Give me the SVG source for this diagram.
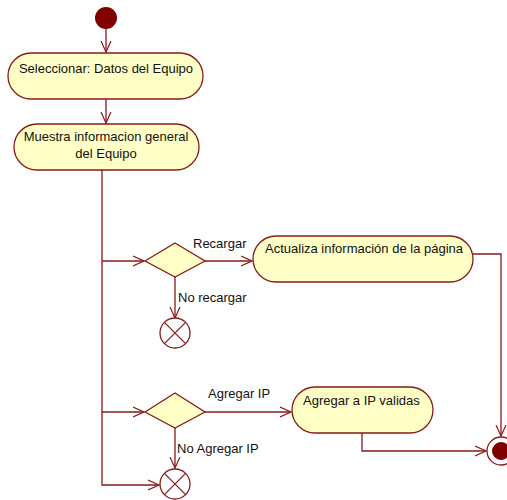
<svg xmlns="http://www.w3.org/2000/svg" width="507" height="500" viewBox="0 0 507 500">
<defs>
<marker id="arr" viewBox="0 0 12 12" refX="11" refY="6" markerWidth="12" markerHeight="12" markerUnits="userSpaceOnUse" orient="auto">
<path d="M0,1 L11,6 L0,11" fill="none" stroke="#8b1a1a" stroke-width="1.2"/>
</marker>
<style>
.act{fill:#ffffc6;stroke:#8b1a1a;stroke-width:1.3}
.ln{fill:none;stroke:#8b1a1a;stroke-width:1.3}
.t{font-family:"Liberation Sans",Arial,sans-serif;font-size:13px;fill:#111}
</style>
</defs>
<rect width="507" height="500" fill="#fff"/>
<g id="connectors" class="ln">
<line x1="106" y1="29" x2="106" y2="52" marker-end="url(#arr)"/>
<line x1="106" y1="99" x2="106" y2="123" marker-end="url(#arr)"/>
<polyline points="102,170 102,485 159,485" marker-end="url(#arr)"/>
<line x1="102" y1="261" x2="144" y2="261" marker-end="url(#arr)"/>
<line x1="102" y1="412" x2="144" y2="412" marker-end="url(#arr)"/>
<line x1="205" y1="261" x2="252" y2="261" marker-end="url(#arr)"/>
<line x1="175" y1="277" x2="175" y2="318" marker-end="url(#arr)"/>
<line x1="205" y1="412" x2="291" y2="412" marker-end="url(#arr)"/>
<line x1="175" y1="428" x2="175" y2="468" marker-end="url(#arr)"/>
<polyline points="473,254 501,254 501,436" marker-end="url(#arr)"/>
<polyline points="362,433 362,451 486,451" marker-end="url(#arr)"/>
</g>
<g id="start"><circle cx="106" cy="18" r="11" fill="#800000"/></g>
<g id="a1">
<rect class="act" x="8" y="53" width="195" height="46" rx="23"/>
<text class="t" x="106" y="73" text-anchor="middle">Seleccionar: Datos del Equipo</text>
</g>
<g id="a2">
<rect class="act" x="14" y="124" width="185" height="46" rx="23"/>
<text class="t" x="106" y="141" text-anchor="middle">Muestra informacion general</text>
<text class="t" x="106" y="158" text-anchor="middle">del Equipo</text>
</g>
<g id="d1">
<polygon class="act" points="145,261 175,243 205,261 175,277"/>
<text class="t" x="193" y="248">Recargar</text>
<text class="t" x="178" y="302">No recargar</text>
</g>
<g id="a3">
<rect class="act" x="253" y="236" width="220" height="46" rx="23"/>
<text class="t" x="265" y="253">Actualiza información de la página</text>
</g>
<g id="x1">
<circle cx="175" cy="333" r="15" fill="#fff" stroke="#8b1a1a" stroke-width="1.3"/>
<path class="ln" d="M164.4,322.4 L185.6,343.6 M185.6,322.4 L164.4,343.6"/>
</g>
<g id="d2">
<polygon class="act" points="145,412 175,393 205,412 175,428"/>
<text class="t" x="208" y="398">Agregar IP</text>
<text class="t" x="177" y="453">No Agregar IP</text>
</g>
<g id="a4">
<rect class="act" x="292" y="387" width="141" height="46" rx="23"/>
<text class="t" x="303" y="405">Agregar a IP validas</text>
</g>
<g id="x2">
<circle cx="175" cy="484" r="15" fill="#fff" stroke="#8b1a1a" stroke-width="1.3"/>
<path class="ln" d="M164.4,473.4 L185.6,494.6 M185.6,473.4 L164.4,494.6"/>
</g>
<g id="end">
<circle cx="501" cy="451" r="14" fill="#fff" stroke="#8b1a1a" stroke-width="1.3"/>
<circle cx="501" cy="451" r="9" fill="#800000"/>
</g>
</svg>
